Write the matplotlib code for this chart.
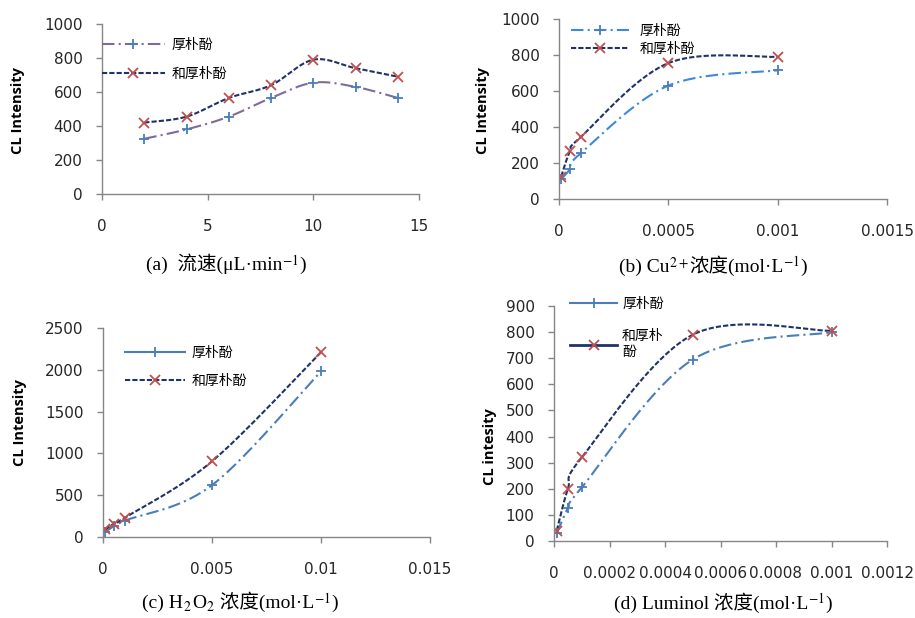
import matplotlib
matplotlib.use("Agg")
import matplotlib.pyplot as plt
from matplotlib.lines import Line2D
from matplotlib.offsetbox import TextArea, HPacker, AnchoredOffsetbox
import numpy as np

plt.rcParams['font.family'] = ['DejaVu Sans', 'Noto Sans CJK SC']
plt.rcParams['mathtext.fontset'] = 'stix'

# ---- data ----
labels = ['厚朴酚', '和厚朴酚']

a_x = [2, 4, 6, 8, 10, 12, 14]
a_hok = [325, 380, 455, 565, 655, 630, 565]
a_mag = [420, 455, 565, 640, 790, 740, 690]
a_xticks = [0, 5, 10, 15]
a_xticklabels = ['0', '5', '10', '15']
a_yticks = [0, 200, 400, 600, 800, 1000]

b_x = [1e-5, 5e-5, 1e-4, 5e-4, 1e-3]
b_hok = [110, 165, 255, 630, 715]
b_mag = [125, 265, 345, 755, 790]
b_xticks = [0, 0.0005, 0.001, 0.0015]
b_xticklabels = ['0', '0.0005', '0.001', '0.0015']
b_yticks = [0, 200, 400, 600, 800, 1000]

c_x = [1e-4, 5e-4, 1e-3, 5e-3, 1e-2]
c_hok = [60, 130, 195, 620, 1980]
c_mag = [90, 160, 230, 905, 2210]
c_xticks = [0, 0.005, 0.01, 0.015]
c_xticklabels = ['0', '0.005', '0.01', '0.015']
c_yticks = [0, 500, 1000, 1500, 2000, 2500]

d_x = [1e-5, 5e-5, 1e-4, 5e-4, 1e-3]
d_hok = [30, 125, 205, 695, 800]
d_mag = [40, 200, 320, 790, 805]
d_xticks = [0, 0.0002, 0.0004, 0.0006, 0.0008, 0.001, 0.0012]
d_xticklabels = ['0', '0.0002', '0.0004', '0.0006', '0.0008', '0.001', '0.0012']
d_yticks = [0, 100, 200, 300, 400, 500, 600, 700, 800, 900]

# caption pieces (math pieces give the super/subscripts)
cap_a = ['(a)  流速(μL·min', '$^{-1}$', ')']
cap_b = ['(b) Cu', '$^{2+}$', '浓度(mol·L', '$^{-1}$', ')']
cap_c = ['(c) H', '$_{2}$', 'O', '$_{2}$', ' 浓度(mol·L', '$^{-1}$', ')']
cap_d = ['(d) Luminol 浓度(mol·L', '$^{-1}$', ')']

NAVY = '#1f3368'
RED = '#c0504d'
BLUE = '#4a7ebb'


def smooth(x, y, n=40):
    # excel-like smoothed line (catmull-rom bezier)
    p = np.column_stack([x, y]).astype(float)
    p = np.vstack([p[0], p, p[-1]])
    out = []
    t = np.linspace(0, 1, n)[:, None]
    for i in range(1, len(p) - 2):
        p0, p1, p2, p3 = p[i-1], p[i], p[i+1], p[i+2]
        c1 = p1 + (p2 - p0) / 6
        c2 = p2 - (p3 - p1) / 6
        seg = (1-t)**3*p1 + 3*(1-t)**2*t*c1 + 3*(1-t)*t**2*c2 + t**3*p2
        out.append(seg if i == 1 else seg[1:])
    out = np.vstack(out)
    return out[:, 0], out[:, 1]


def panel(rect, x, hok, mag, xticks, xticklabels, yticks, hok_color,
          leg_anchor, leg_len, leg_pad, leg_space, leg_solid_mag=False, mag_label=None):
    ax = fig.add_axes(rect)
    hx, hy = smooth(x, hok)
    mx, my = smooth(x, mag)
    ax.plot(hx, hy, color=hok_color, lw=1.5, dashes=[6, 2, 1, 2])
    ax.plot(mx, my, color=NAVY, lw=1.5, dashes=[2.5, 1])
    ax.plot(x, hok, ls='none', marker='+', ms=7, mew=1.3, color=BLUE)
    ax.plot(x, mag, ls='none', marker='x', ms=6.5, mew=1.3, color=RED)
    ax.set_xlim(xticks[0], xticks[-1])
    ax.set_ylim(yticks[0], yticks[-1])
    ax.set_xticks(xticks)
    ax.set_xticklabels(xticklabels)
    ax.set_yticks(yticks)
    for s in ['top', 'right']:
        ax.spines[s].set_visible(False)
    for s in ['left', 'bottom']:
        ax.spines[s].set_color('#868686')
        ax.spines[s].set_linewidth(1.0)
    ax.tick_params(axis='x', direction='out', length=4, width=1, color='#868686',
                   pad=14, labelsize=11, labelcolor='#262626')
    ax.tick_params(axis='y', direction='out', length=4, width=1, color='#868686',
                   pad=10, labelsize=11, labelcolor='#262626')
    ax.patch.set_alpha(0)

    # legend
    if hok_color == BLUE:
        h1 = Line2D([], [], color=BLUE, lw=1.5, marker='+', ms=7, mew=1.3)
    else:
        h1 = Line2D([], [], color=hok_color, lw=1.5, dashes=[6, 2, 1, 2],
                    marker='+', ms=7, mew=1.3, mec=BLUE)
    if leg_solid_mag:
        h2 = Line2D([], [], color=NAVY, lw=2, marker='x', ms=6.5, mew=1.3, mec=RED)
    else:
        h2 = Line2D([], [], color=NAVY, lw=1.5, dashes=[2.5, 1], marker='x',
                    ms=6.5, mew=1.3, mec=RED)
    ax.legend([h1, h2], [labels[0], mag_label or labels[1]], loc='upper left',
              bbox_to_anchor=leg_anchor, frameon=False, borderpad=0,
              borderaxespad=0, handlelength=leg_len, handletextpad=leg_pad,
              labelspacing=leg_space,
              prop={'family': ['Noto Sans CJK SC'], 'size': 10})
    return ax


fig = plt.figure(figsize=(9.15, 6.18), dpi=100)

W, H = 915.0, 618.0


def rect(l, r, t, b):
    return [l / W, 1 - b / H, (r - l) / W, (b - t) / H]


panel(rect(102, 419, 24, 194), a_x, a_hok, a_mag, a_xticks, a_xticklabels, a_yticks,
      '#7f6a9e', (0.0, 0.92), 4.5, 0.5, 1.1)
panel(rect(559, 887, 19, 199), b_x, b_hok, b_mag, b_xticks, b_xticklabels, b_yticks,
      '#3d8ad6', (0.037, 0.973), 4.2, 0.7, 0.32)
panel(rect(103, 430, 328, 537), c_x, c_hok, c_mag, c_xticks, c_xticklabels, c_yticks,
      BLUE, (0.067, 0.916), 4.3, 0.5, 1.06)
panel(rect(554, 887, 306, 541), d_x, d_hok, d_mag, d_xticks, d_xticklabels, d_yticks,
      BLUE, (0.048, 1.039), 3.4, 0.35, 1.3, leg_solid_mag=True,
      mag_label='和厚朴\n酚')

# y labels
ylab = dict(rotation=90, ha='center', va='center', fontsize=10.5, fontweight='bold',
            family=['Open Sans', 'DejaVu Sans'])
fig.text(18 / W, 1 - 110 / H, 'CL Intensity', **ylab)
fig.text(483 / W, 1 - 110 / H, 'CL Intensity', **ylab)
fig.text(20 / W, 1 - 422 / H, 'CL Intensity', **ylab)
fig.text(490 / W, 1 - 447 / H, 'CL intesity', **ylab)

# captions
cap_props = dict(fontsize=14, color='black',
                 family=['Liberation Serif', 'Noto Sans CJK SC'])


def caption(cx, cy, parts):
    kids = [TextArea(p, textprops=cap_props) for p in parts]
    box = HPacker(children=kids, align='baseline', pad=0, sep=0)
    anc = AnchoredOffsetbox(loc='center', child=box, pad=0, borderpad=0,
                            frameon=False, bbox_to_anchor=(cx / W, 1 - cy / H),
                            bbox_transform=fig.transFigure)
    fig.add_artist(anc)


caption(226, 264, cap_a)
caption(713, 266, cap_b)
caption(240, 603, cap_c)
caption(723, 603, cap_d)

fig.savefig('out.png', dpi=100)
